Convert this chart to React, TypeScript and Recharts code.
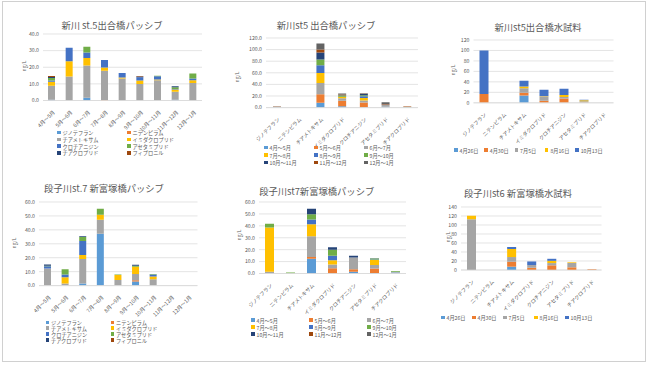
import { BarChart, Bar, XAxis, YAxis, CartesianGrid } from "recharts";

const FONT = "'Noto Sans CJK JP', 'Noto Sans', sans-serif";
const TEXT = "#595959";
const GRID = "#d9d9d9";
const COLORS = ["#5B9BD5", "#ED7D31", "#A5A5A5", "#FFC000", "#4472C4", "#70AD47", "#264478", "#9E480E", "#636363"];

const months = ["4月～5月", "5月～6月", "6月～7月", "7月～8月", "8月～9月", "9月～10月", "10月～11月", "11月～12月", "12月～1月"];
const compounds = ["ジノテフラン", "ニテンピラム", "チアメトキサム", "イミダクロプリド", "クロチアニジン", "アセタミプリド", "チアクロプリド", "フィプロニル"];
const waterCompounds = ["ジノテフラン", "ニテンピラム", "チアメトキサム", "イミダクロプリド", "クロチアニジン", "アセタミプリド", "チアクロプリド"];
const sampleDates = ["4月26日", "4月30日", "7月5日", "8月16日", "10月13日"];

const ticks40 = [0, 10, 20, 30, 40];
const ticks60 = [0, 10, 20, 30, 40, 50, 60];
const ticks120 = [0, 20, 40, 60, 80, 100, 120];
const ticks140 = [0, 20, 40, 60, 80, 100, 120, 140];

// 新川 st.5 出合橋 passive sampler (ng/L), one value per month
const shinDino = [0.5, 0, 1.6, 0, 0, 0, 0, 0.4, 0];
const shinNiten = [0, 0, 0, 0.3, 0, 0, 0, 0, 0];
const shinThiame = [8.4, 14.4, 19.4, 17.6, 13.2, 10.0, 12.2, 4.8, 10.6];
const shinImida = [2.4, 9.2, 4.6, 2.0, 0.6, 2.0, 0.4, 1.4, 1.6];
const shinCloth = [0.8, 8.2, 3.2, 4.4, 2.8, 2.0, 2.0, 0.3, 1.0];
const shinAceta = [1.4, 0, 3.6, 0, 0, 0, 0.3, 1.0, 3.0];
const shinThiac = [0.7, 0, 0, 0, 0, 0.5, 0, 0.6, 0];
const shinFipro = [0.5, 0, 0, 0, 0, 0.3, 0, 0, 0];

// 段子川 st.7 新富塚橋 passive sampler (ng/L)
const danDino = [0, 0, 1.5, 37.2, 0, 3.0, 0, 0, 0];
const danNiten = [0, 0, 0, 0, 0, 0.8, 0, 0, 0];
const danThiame = [12.3, 1.5, 17.5, 10.0, 4.0, 4.5, 4.5, 0, 0];
const danImida = [0, 4.5, 3.0, 3.7, 3.6, 5.2, 2.0, 0, 0];
const danCloth = [1.5, 2.0, 10.0, 0, 0, 0, 1.5, 0, 0];
const danAceta = [0.5, 3.8, 2.9, 4.2, 0.4, 0.8, 0.3, 0, 0];
const danThiac = [0.9, 0, 0.5, 0, 0, 0.7, 0, 0, 0];
const danFipro = [0, 0, 0, 0, 0, 0, 0, 0, 0];

// 新川 st5 water samples (ng/L), one value per compound
const shinW0426 = [0, 0, 14, 0, 0, 0, 0];
const shinW0430 = [17, 0, 5, 3.8, 8, 0.5, 0];
const shinW0705 = [0, 0, 9, 8.9, 3, 2.5, 0];
const shinW0816 = [0, 0, 3, 0.5, 4, 2.0, 0];
const shinW1013 = [83, 0, 11, 11.5, 12, 0.8, 0];

// 段子川 st6 water samples (ng/L)
const danW0426 = [0, 0, 7.4, 0, 0, 0, 0];
const danW0430 = [0, 0, 11, 5, 10.4, 6, 1.5];
const danW0705 = [113, 0, 10.4, 6, 5, 9.6, 0];
const danW0816 = [7.4, 0, 17.8, 0, 5, 1.5, 0];
const danW1013 = [0, 0, 4.4, 8, 4.5, 0, 0];

interface Series {
  name: string;
  color: string;
  values: number[];
}

const shinByCompound = [shinDino, shinNiten, shinThiame, shinImida, shinCloth, shinAceta, shinThiac, shinFipro];
const danByCompound = [danDino, danNiten, danThiame, danImida, danCloth, danAceta, danThiac, danFipro];

const compoundSeries = (arrs: number[][]): Series[] =>
  compounds.map((c, i) => ({ name: c, color: COLORS[i], values: arrs[i] }));

const monthSeries = (arrs: number[][]): Series[] =>
  months.map((m, j) => ({ name: m, color: COLORS[j], values: waterCompounds.map((_, i) => arrs[i][j]) }));

const dateSeries = (arrs: number[][]): Series[] =>
  sampleDates.map((d, j) => ({ name: d, color: COLORS[j], values: arrs[j] }));

function buildRows(categories: string[], series: Series[]) {
  return categories.map((c, i) => {
    const row: Record<string, string | number> = { name: c };
    series.forEach((s, j) => {
      row[`s${j}`] = s.values[i] ?? 0;
    });
    return row;
  });
}

function SlantTick(props: any) {
  const { x, y, payload } = props;
  const ax = x + 2;
  const ay = y + 3;
  return (
    <text
      x={ax}
      y={ay}
      dy="0.35em"
      transform={`rotate(-45 ${ax} ${ay})`}
      textAnchor="end"
      fontSize={5.2}
      fill={TEXT}
      fontFamily={FONT}
    >
      {payload.value}
    </text>
  );
}

interface PanelProps {
  title: string;
  titleX: number;
  titleY: number;
  left: number;
  plot: { x: number; y: number; w: number; h: number };
  categories: string[];
  series: Series[];
  ticks: number[];
  decimals: number;
  barSize: number;
  unit: { x: number; y: number };
  legend: { x: number; y: number; cols: number; colW: number; rowH: number };
}

function Panel(p: PanelProps) {
  const top = p.plot.y - 8;
  const xAxisH = 56;
  const right = 6;
  const width = p.plot.x + p.plot.w + right - p.left;
  const height = p.plot.y - top + p.plot.h + xAxisH;
  const rows = buildRows(p.categories, p.series);
  const yMax = p.ticks[p.ticks.length - 1];

  return (
    <>
      <div
        style={{
          position: "absolute",
          left: p.titleX,
          top: p.titleY,
          transform: "translate(-50%, -50%)",
          fontSize: 9.3,
          color: TEXT,
          whiteSpace: "nowrap",
        }}
      >
        {p.title}
      </div>
      <div style={{ position: "absolute", left: p.left, top }}>
        <BarChart
          width={width}
          height={height}
          data={rows}
          margin={{ top: p.plot.y - top, right, bottom: 0, left: 0 }}
          style={{ overflow: "visible" }}
        >
          <CartesianGrid vertical={false} stroke={GRID} strokeWidth={0.7} />
          <XAxis
            dataKey="name"
            interval={0}
            height={xAxisH}
            tickLine={false}
            axisLine={{ stroke: GRID, strokeWidth: 0.7 }}
            tick={<SlantTick />}
          />
          <YAxis
            width={p.plot.x - p.left}
            domain={[0, yMax]}
            ticks={p.ticks}
            interval={0}
            allowDataOverflow
            axisLine={false}
            tickLine={false}
            tickSize={2}
            tickMargin={2}
            tick={{ fontSize: 5.2, fill: TEXT, fontFamily: FONT }}
            tickFormatter={(v: number) => v.toFixed(p.decimals)}
          />
          {p.series.map((s, j) => (
            <Bar
              key={s.name}
              dataKey={`s${j}`}
              name={s.name}
              stackId="a"
              fill={s.color}
              barSize={p.barSize}
              isAnimationActive={false}
            />
          ))}
        </BarChart>
      </div>
      <div
        style={{
          position: "absolute",
          left: p.unit.x,
          top: p.unit.y,
          transform: "translate(-50%, -50%) rotate(-90deg)",
          fontSize: 5,
          color: TEXT,
          whiteSpace: "nowrap",
        }}
      >
        ng/L
      </div>
      {p.series.map((s, j) => {
        const col = j % p.legend.cols;
        const row = Math.floor(j / p.legend.cols);
        return (
          <div
            key={s.name}
            style={{
              position: "absolute",
              left: p.legend.x + col * p.legend.colW,
              top: p.legend.y + row * p.legend.rowH - 3.5,
              height: 7,
              display: "flex",
              alignItems: "center",
              fontSize: 5.2,
              color: TEXT,
              whiteSpace: "nowrap",
            }}
          >
            <span style={{ width: 3.5, height: 3.5, background: s.color, marginRight: 2, display: "inline-block" }} />
            {s.name}
          </div>
        );
      })}
    </>
  );
}

export default function App() {
  return (
    <div
      style={{
        position: "absolute",
        left: 0,
        top: 0,
        width: 650,
        height: 366,
        background: "#fff",
        fontFamily: FONT,
        overflow: "hidden",
      }}
    >
      <div
        style={{
          position: "absolute",
          left: 2,
          top: 1,
          width: 644,
          height: 361,
          border: "1px solid #d0d0d0",
          boxSizing: "border-box",
        }}
      />
      <Panel
        title="新川 st.5出合橋パッシブ"
        titleX={112}
        titleY={25}
        left={4}
        plot={{ x: 43, y: 33.5, w: 159, h: 66.5 }}
        categories={months}
        series={compoundSeries(shinByCompound)}
        ticks={ticks40}
        decimals={1}
        barSize={7}
        unit={{ x: 23, y: 66 }}
        legend={{ x: 57, y: 132.7, cols: 2, colW: 70, rowH: 6.7 }}
      />
      <Panel
        title="新川st5 出合橋パッシブ"
        titleX={326}
        titleY={25}
        left={218}
        plot={{ x: 266, y: 37.7, w: 152, h: 69.6 }}
        categories={waterCompounds}
        series={monthSeries(shinByCompound)}
        ticks={ticks120}
        decimals={1}
        barSize={8}
        unit={{ x: 236, y: 77 }}
        legend={{ x: 264, y: 147.3, cols: 3, colW: 50, rowH: 7.7 }}
      />
      <Panel
        title="新川st5出合橋水試料"
        titleX={538}
        titleY={26.7}
        left={432}
        plot={{ x: 473.5, y: 40.2, w: 140, h: 62.8 }}
        categories={waterCompounds}
        series={dateSeries([shinW0426, shinW0430, shinW0705, shinW0816, shinW1013])}
        ticks={ticks120}
        decimals={0}
        barSize={9}
        unit={{ x: 452, y: 70 }}
        legend={{ x: 454, y: 150, cols: 5, colW: 30.3, rowH: 7 }}
      />
      <Panel
        title="段子川st.7 新富塚橋パッシブ"
        titleX={104}
        titleY={188.3}
        left={4}
        plot={{ x: 39, y: 202, w: 158.5, h: 83.6 }}
        categories={months}
        series={compoundSeries(danByCompound)}
        ticks={ticks60}
        decimals={1}
        barSize={7}
        unit={{ x: 13, y: 243 }}
        legend={{ x: 45.5, y: 322.3, cols: 2, colW: 65, rowH: 5.9 }}
      />
      <Panel
        title="段子川st7新富塚橋パッシブ"
        titleX={316.7}
        titleY={190.7}
        left={218}
        plot={{ x: 259, y: 202, w: 147, h: 71.5 }}
        categories={waterCompounds}
        series={monthSeries(danByCompound)}
        ticks={ticks60}
        decimals={1}
        barSize={9}
        unit={{ x: 238, y: 235 }}
        legend={{ x: 251, y: 320, cols: 3, colW: 58, rowH: 7 }}
      />
      <Panel
        title="段子川st6 新富塚橋水試料"
        titleX={518}
        titleY={193.3}
        left={432}
        plot={{ x: 461, y: 207.3, w: 140.5, h: 63 }}
        categories={waterCompounds}
        series={dateSeries([danW0426, danW0430, danW0705, danW0816, danW1013])}
        ticks={ticks140}
        decimals={0}
        barSize={9}
        unit={{ x: 447, y: 237 }}
        legend={{ x: 441, y: 317.7, cols: 5, colW: 31, rowH: 7 }}
      />
    </div>
  );
}
